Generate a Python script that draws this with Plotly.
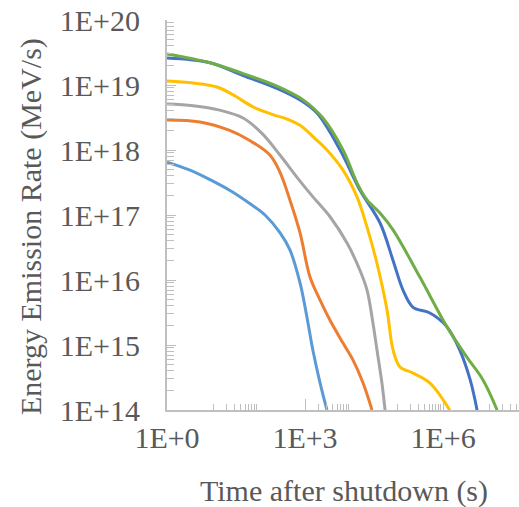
import plotly.graph_objects as go

# Time after shutdown (s) and energy emission rate (MeV/s) for six series
t1 = [1, 3.16, 8.6, 23, 63, 135, 288, 470, 780, 1100, 1480, 2130, 3000]
e1 = [6.5e17, 4.9e17, 3.5e17, 2.4e17, 1.5e17, 1.0e17, 5.3e16, 2.9e16, 9e15, 2.7e15, 8.4e14, 2.6e14, 1.0e14]

t2 = [1, 5.2, 23, 63, 174, 288, 470, 780, 1290, 2130, 3500, 6700, 11000, 18300, 28600]
e2 = [2.9e18, 2.7e18, 2.0e18, 1.4e18, 8.3e17, 4.5e17, 1.7e17, 5.3e16, 1.1e16, 4.9e15, 2.4e15, 1.07e15, 5.9e14, 2.6e14, 1.0e14]

t3 = [1, 3.7, 14, 45, 116, 288, 670, 1490, 3500, 8200, 15700, 22300, 28600, 36700, 47000, 55000]
e3 = [5.1e18, 4.8e18, 4.1e18, 3.1e18, 1.8e18, 8.3e17, 3.8e17, 1.9e17, 9.4e16, 3.7e16, 1.4e16, 7e15, 2.7e15, 8.4e14, 2.6e14, 1.0e14]

t4 = [1, 3.7, 12.2, 27, 74, 200, 405, 780, 1650, 3000, 6700, 13500, 22300, 36700, 60500, 82000, 116000, 223000, 520000, 1.4e6]
e4 = [1.15e19, 1.07e19, 9.3e18, 7.1e18, 4.6e18, 3.5e18, 3.0e18, 2.4e18, 1.5e18, 1.0e18, 4.9e17, 1.9e17, 6.5e16, 1.8e16, 3.5e15, 8.4e14, 4.6e14, 3.7e14, 2.6e14, 1.0e14]

t5 = [1, 8.6, 45, 245, 780, 1820, 5800, 15700, 42600, 82000, 135000, 223000, 520000, 1.22e6, 2.3e6, 3.9e6, 5.5e6]
e5 = [2.6e19, 2.2e19, 1.4e19, 8.9e18, 5.9e18, 3.7e18, 1.0e18, 2.4e17, 7.6e16, 2.0e16, 7e15, 3.8e15, 3.1e15, 1.9e15, 8.4e14, 2.9e14, 1.0e14]

t6 = [1, 8.6, 45, 245, 910, 2450, 6700, 14200, 22300, 42600, 82000, 316000, 1.22e6, 3.3e6, 7.4e6, 1.5e7]
e6 = [3.0e19, 2.2e19, 1.5e19, 9.6e18, 5.9e18, 3.1e18, 1.0e18, 2.9e17, 1.7e17, 1.07e17, 5.9e16, 1.1e16, 1.9e15, 6.5e14, 2.9e14, 1.0e14]

series = [(t1, e1), (t2, e2), (t3, e3), (t4, e4), (t5, e5), (t6, e6)]
colors = ["#5B9BD5", "#ED7D31", "#A5A5A5", "#FFC000", "#4472C4", "#70AD47"]

x_tickvals = [1, 1e3, 1e6]
x_ticktext = ["1E+0", "1E+3", "1E+6"]
x_minor = [k * 10 ** p for p in (1, 3, 5, 7) for k in range(1, 10)]
y_tickvals = [1e14, 1e15, 1e16, 1e17, 1e18, 1e19, 1e20]
y_ticktext = ["1E+14", "1E+15", "1E+16", "1E+17", "1E+18", "1E+19", "1E+20"]

FONT = "Liberation Serif, Times New Roman, serif"
TXT = "#595959"
AX = "#BFBFBF"

fig = go.Figure()
for (tx, ey), c in zip(series, colors):
    fig.add_trace(go.Scatter(x=tx, y=ey, mode="lines",
                             line=dict(color=c, width=3, shape="spline", smoothing=1),
                             showlegend=False, cliponaxis=True))

fig.update_layout(
    width=519, height=507,
    margin=dict(l=167, r=0, t=20, b=97),
    paper_bgcolor="white", plot_bgcolor="white",
    font=dict(family=FONT, size=30, color=TXT),
    xaxis=dict(type="log", range=[0, 7.652], showgrid=False, zeroline=False,
               showline=True, linecolor=AX, linewidth=2,
               tickmode="array", tickvals=x_tickvals, ticktext=x_ticktext,
               ticks="inside", ticklen=11, tickwidth=1, tickcolor=AX,
               ticklabelstandoff=0,
               minor=dict(tickmode="array", tickvals=x_minor, ticks="inside",
                          ticklen=6, tickwidth=1, tickcolor=AX, showgrid=False)),
    yaxis=dict(type="log", range=[14, 20], showgrid=False, zeroline=False,
               showline=True, linecolor=AX, linewidth=2,
               tickmode="array", tickvals=y_tickvals, ticktext=y_ticktext,
               ticks="inside", ticklen=9, tickwidth=1, tickcolor=AX,
               ticklabelstandoff=19,
               minor=dict(dtick="D1", ticks="inside", ticklen=7, tickwidth=1,
                          tickcolor=AX, showgrid=False)),
    annotations=[
        dict(text="Energy Emission Rate (MeV/s)", xref="paper", yref="paper",
             x=0, y=0.469, xshift=-136, textangle=-90, showarrow=False,
             xanchor="center", yanchor="middle", font=dict(size=30, color=TXT, family=FONT)),
        dict(text="Time after shutdown (s)", xref="paper", yref="paper",
             x=0.5028, y=0, yshift=-81, showarrow=False,
             xanchor="center", yanchor="middle", font=dict(size=30, color=TXT, family=FONT)),
    ],
)

fig.write_html("out.html", config={"displayModeBar": False},
               post_script="document.body.style.margin='0px';")
